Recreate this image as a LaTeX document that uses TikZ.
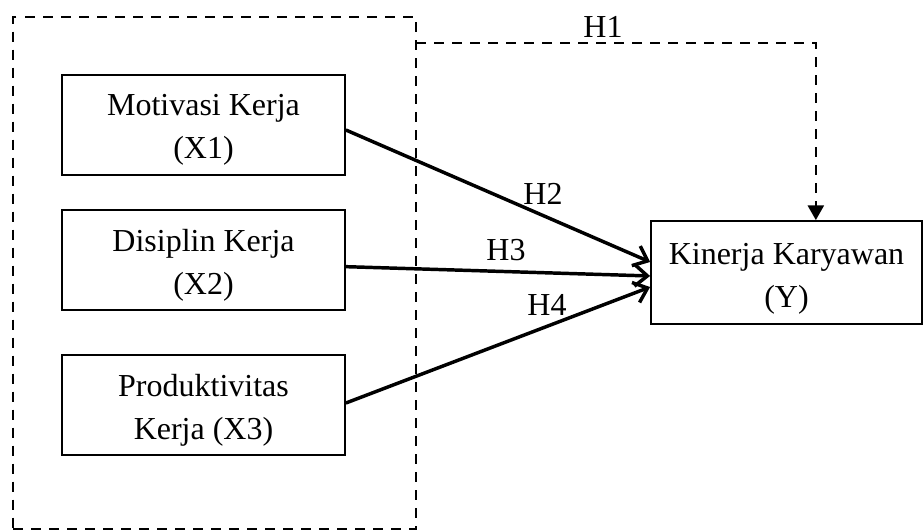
\documentclass[tikz,border=0pt]{standalone}
\usepackage{fontspec}
\setmainfont{Liberation Serif}
\usetikzlibrary{arrows.meta}
\begin{document}
\begin{tikzpicture}[x=0.75pt,y=-0.75pt,
  txt/.style={font=\fontsize{24}{32}\selectfont},
  boxtxt/.style={txt,align=center,inner sep=0pt},
  varbox/.style={draw,line width=1.6pt,minimum width=212pt,minimum height=75pt,inner sep=0pt},
  ybox/.style={draw,line width=1.6pt,minimum width=203pt,minimum height=77pt,inner sep=0pt},
  grpbox/.style={draw,line width=1.7pt,dash pattern=on 7.5pt off 6pt,minimum width=302pt,minimum height=384pt,inner sep=0pt},
  path/.style={line width=2.6pt,-{Straight Barb[length=9.5pt,width=16pt,line width=2.6pt]}},
  hyp/.style={line width=1.7pt,dash pattern=on 7.5pt off 6pt,-{Triangle[length=11pt,width=12pt]}},
  lbl/.style={txt,inner sep=0pt}]
\useasboundingbox (0,0) rectangle (924,529);
\node[grpbox] (grp) at (214.5,273) {};
\node[varbox] (x1) at (203.5,125) {};
\node[varbox] (x2) at (203.5,260) {};
\node[varbox] (x3) at (203.5,405) {};
\node[ybox] (y) at (786.5,272.5) {};
\node[boxtxt] (x1t) at ([yshift=-3.75pt]x1.center) {Motivasi Kerja\\(X1)};
\node[boxtxt] (x2t) at ([yshift=-3.75pt]x2.center) {Disiplin Kerja\\(X2)};
\node[boxtxt] (x3t) at ([yshift=-3.75pt]x3.center) {Produktivitas\\Kerja (X3)};
\node[boxtxt] (yt) at ([yshift=-4.5pt]y.center) {Kinerja Karyawan\\(Y)};
\coordinate (h1s) at (416,43);
\draw[hyp] (h1s) -| ([xshift=22pt]y.north);
\draw[path] ([yshift=-3.75pt]x1.east) -- ([yshift=7.9pt]y.west);
\draw[path] ([yshift=-5pt]x2.east) -- ([yshift=-2.6pt]y.west);
\draw[path] ([yshift=1.5pt]x3.east) -- ([yshift=-10.9pt]y.west);
\node[lbl] (l1) at (603,27) {H1};
\node[lbl] (l2) at (543,194) {H2};
\node[lbl] (l3) at (506,250) {H3};
\node[lbl] (l4) at (547,305) {H4};
\end{tikzpicture}
\end{document}
